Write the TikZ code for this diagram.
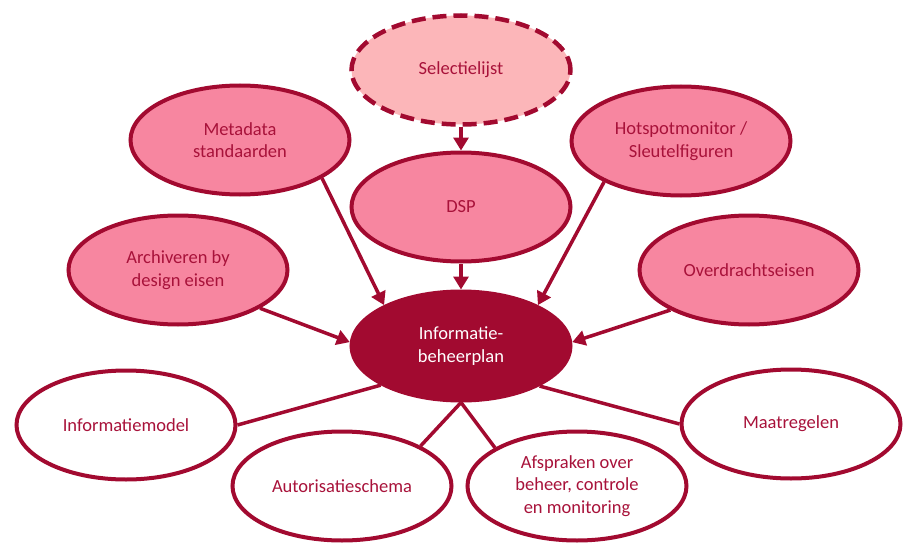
\documentclass[tikz,border=0pt]{standalone}
\usepackage{fontspec}
\setmainfont{Carlito}
\usetikzlibrary{shapes.geometric,arrows.meta}
\definecolor{dred}{RGB}{162,10,48}
\definecolor{tred}{RGB}{168,18,58}
\definecolor{pinkf}{RGB}{247,134,160}
\definecolor{lpink}{RGB}{252,182,185}
\begin{document}
\begin{tikzpicture}[x=1pt,y=-1pt,
  base/.style={ellipse, minimum width=219pt, minimum height=109pt, inner sep=0pt,
    draw=dred, line width=4pt, align=center, text=tred,
    font=\fontsize{18.5}{22.5}\selectfont},
  pinkbox/.style={base, fill=pinkf},
  selbox/.style={base, fill=lpink, dash pattern=on 14pt off 7pt, line width=4.5pt},
  whitebox/.style={base, fill=white},
  centerbox/.style={base, fill=dred, text=white},
  arr/.style={draw=dred, line width=3.5pt, -{Triangle[width=15pt,length=13pt]}},
  lnk/.style={draw=dred, line width=3.5pt}
]
\useasboundingbox (0,0) rectangle (913,543);
\node[selbox] (sel) at (461,70) {Selectielijst};
\node[pinkbox] (meta) at (240,140) {Metadata\\standaarden};
\node[pinkbox] (dsp) at (461,207) {DSP};
\node[pinkbox] (hot) at (681,141) {Hotspotmonitor /\\Sleutelfiguren};
\node[pinkbox] (arch) at (178,270) {Archiveren by\\design eisen};
\node[pinkbox] (over) at (749,270) {Overdrachtseisen};
\node[centerbox] (ibp) at (461,346) {Informatie-\\beheerplan};
\node[whitebox] (infm) at (126,425) {Informatiemodel};
\node[whitebox] (maat) at (791,424) {Maatregelen};
\node[whitebox] (auto) at (342,486) {Autorisatieschema};
\node[whitebox] (afsp) at (577,486) {Afspraken over\\beheer, controle\\en monitoring};

\draw[arr] (sel.south) -- (dsp.north);
\draw[arr] (dsp.south) -- (ibp.north);
\draw[arr] (meta.-25) -- (ibp.152);
\draw[arr] (hot.208) -- (ibp.28);
\draw[arr] (arch.-25) -- (ibp.178);
\draw[arr] (over.207) -- (ibp.2);
\draw[lnk] (ibp.206) -- (infm.east);
\draw[lnk] (ibp.-27) -- (maat.west);
\draw[lnk] (ibp.south) -- (auto.27);
\draw[lnk] (ibp.south) -- (afsp.155);
\end{tikzpicture}
\end{document}
